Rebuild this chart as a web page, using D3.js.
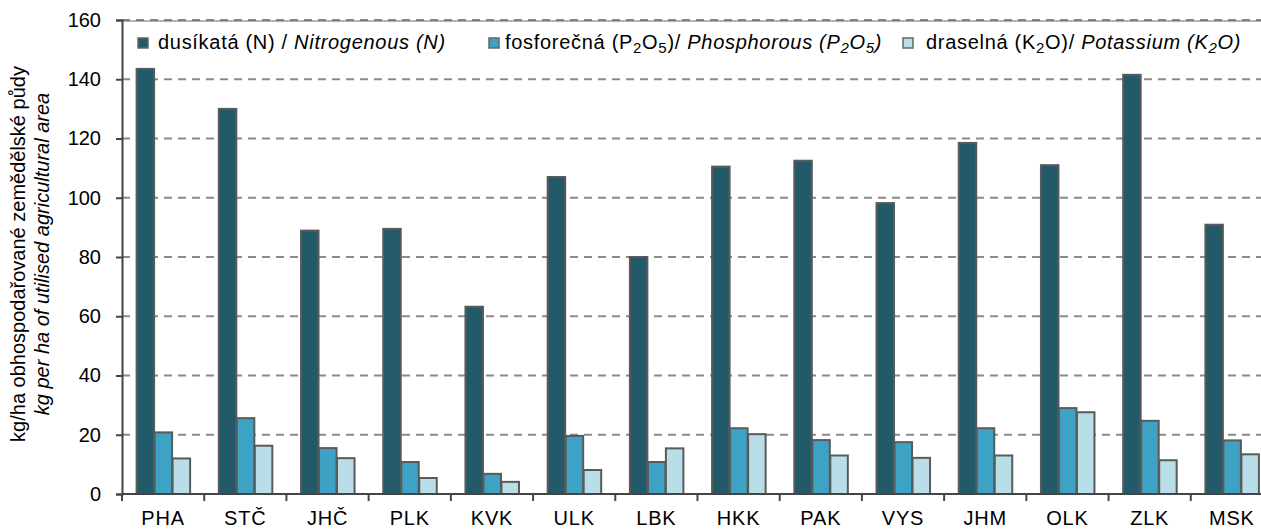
<!DOCTYPE html>
<html>
<head>
<meta charset="utf-8">
<script src="https://cdn.jsdelivr.net/npm/d3@7/dist/d3.min.js"></script>
<style>
  html, body { margin: 0; padding: 0; background: #fff; overflow: hidden; }
  svg { display: block; font-family: "Liberation Sans", Arial, sans-serif; }
</style>
</head>
<body>
<svg id="chart" width="1261" height="530"></svg>
<script>
const categories = ["PHA","STČ","JHČ","PLK","KVK","ULK","LBK","HKK","PAK","VYS","JHM","OLK","ZLK","MSK"];
const nitrogen   = [143.5,130.0,88.9,89.5,63.2,107.0,80.0,110.5,112.5,98.2,118.5,111.0,141.5,90.9];
const phosphorus = [20.8,25.6,15.5,10.8,6.8,19.6,10.8,22.2,18.2,17.5,22.2,29.0,24.7,18.1];
const potassium  = [12.0,16.3,12.1,5.4,4.1,8.1,15.4,20.2,13.0,12.2,13.0,27.6,11.4,13.4];
const yTicks = [0,20,40,60,80,100,120,140,160];
const seriesKeys = ["N","P","K"];
const seriesColors = ["#235A69","#3DA2C4","#B8DEE8"];

const svg = d3.select("#chart");
const mLeft = 122, mRight = 1273, mTop = 20, mBottom = 494;

const x0 = d3.scaleBand().domain(categories).range([mLeft, mRight]).padding(0);
const bw = x0.bandwidth();
const x1 = d3.scaleBand().domain(seriesKeys).range([bw*0.1715, bw*0.8285]).padding(0);
const y = d3.scaleLinear().domain([0,160]).range([mBottom, mTop]);

// gridlines
svg.append("g").selectAll("line").data(yTicks.filter(d => d > 0)).join("line")
  .attr("x1", mLeft).attr("x2", 1261)
  .attr("y1", d => y(d)).attr("y2", d => y(d))
  .attr("stroke", "#8a8a8a").attr("stroke-width", 2).attr("stroke-dasharray", "8,6");

// top border line
svg.append("line").attr("x1", mLeft).attr("x2", 1261).attr("y1", mTop + 1).attr("y2", mTop + 1)
  .attr("stroke", "#666").attr("stroke-width", 1);

// bars
const rows = categories.map((c, i) => ({ c, vals: [nitrogen[i], phosphorus[i], potassium[i]] }));
const groups = svg.append("g").selectAll("g").data(rows).join("g")
  .attr("transform", d => `translate(${x0(d.c)},0)`);
groups.selectAll("rect").data(d => d.vals.map((v, j) => ({ k: seriesKeys[j], v, j })))
  .join("rect")
  .attr("x", d => x1(d.k) + 0.5)
  .attr("width", x1.bandwidth() - 0.5)
  .attr("y", d => y(d.v))
  .attr("height", d => y(0) - y(d.v))
  .attr("fill", d => seriesColors[d.j])
  .attr("stroke", "#5a5a5a").attr("stroke-width", 2);

// y axis
const yAxis = svg.append("g").attr("transform", `translate(${mLeft},0)`)
  .call(d3.axisLeft(y).tickValues(yTicks).tickSize(6).tickPadding(15));
yAxis.select(".domain").attr("stroke", "#444").attr("stroke-width", 2);
yAxis.selectAll(".tick line").attr("stroke", "#444").attr("stroke-width", 2);
yAxis.selectAll(".tick text").attr("font-size", 20).attr("fill", "#000")
  .attr("font-family", "Liberation Sans, Arial, sans-serif");

// x axis
const xAxis = svg.append("g").attr("transform", `translate(0,${mBottom})`)
  .call(d3.axisBottom(x0).tickSize(0).tickPadding(17));
xAxis.select(".domain").remove();
xAxis.append("line").attr("x1", mLeft).attr("x2", 1261).attr("y1", 0).attr("y2", 0)
  .attr("stroke", "#444").attr("stroke-width", 2);
xAxis.selectAll(".tick text").attr("font-size", 20).attr("letter-spacing", 0.8).attr("fill", "#000")
  .attr("font-family", "Liberation Sans, Arial, sans-serif");
const edges = categories.map(c => x0(c)).concat([x0(categories[categories.length-1]) + bw]);
xAxis.append("g").selectAll("line").data(edges).join("line")
  .attr("x1", d => d).attr("x2", d => d).attr("y1", 0).attr("y2", 7)
  .attr("stroke", "#444").attr("stroke-width", 2);

// y axis title
const yt = svg.append("text").attr("transform", "translate(0,254) rotate(-90)")
  .attr("text-anchor", "middle").attr("font-size", 20).attr("fill", "#000");
yt.append("tspan").attr("x", 0).attr("y", 25).text("kg/ha obhospodařované zemědělské půdy");
yt.append("tspan").attr("x", 0).attr("y", 49).attr("font-style", "italic").text("kg per ha of utilised agricultural area");

// legend
const legendItems = [
  { x: 138, tx: 158, parts: [["dusíkatá (N) / ",""],["Nitrogenous (N)","i"]] },
  { x: 489, tx: 505, parts: [["fosforečná (P",""],["2","s"],["O",""],["5","s"],[")/ ",""],["Phosphorous (P","i"],["2","si"],["O","i"],["5","si"],[")","i"]] },
  { x: 903, tx: 926, parts: [["draselná (K",""],["2","s"],["O",""],[")/ ",""],["Potassium (K","i"],["2","si"],["O)","i"]] }
];
const lg = svg.append("g");
legendItems.forEach((it, i) => {
  lg.append("rect").attr("x", it.x).attr("y", 38).attr("width", 10).attr("height", 10)
    .attr("fill", seriesColors[i]).attr("stroke", "#666").attr("stroke-width", 1.5);
  const t = lg.append("text").attr("x", it.tx).attr("y", 49).attr("font-size", 20)
    .attr("letter-spacing", 0.7).attr("fill", "#000");
  let prevSub = false;
  it.parts.forEach(p => {
    const s = t.append("tspan").text(p[0]);
    const isSub = p[1].includes("s");
    if (p[1].includes("i")) s.attr("font-style", "italic");
    if (isSub) s.attr("font-size", 15).attr("dy", prevSub ? 0 : 4);
    else if (prevSub) s.attr("dy", -4);
    prevSub = isSub;
  });
});
</script>
</body>
</html>
